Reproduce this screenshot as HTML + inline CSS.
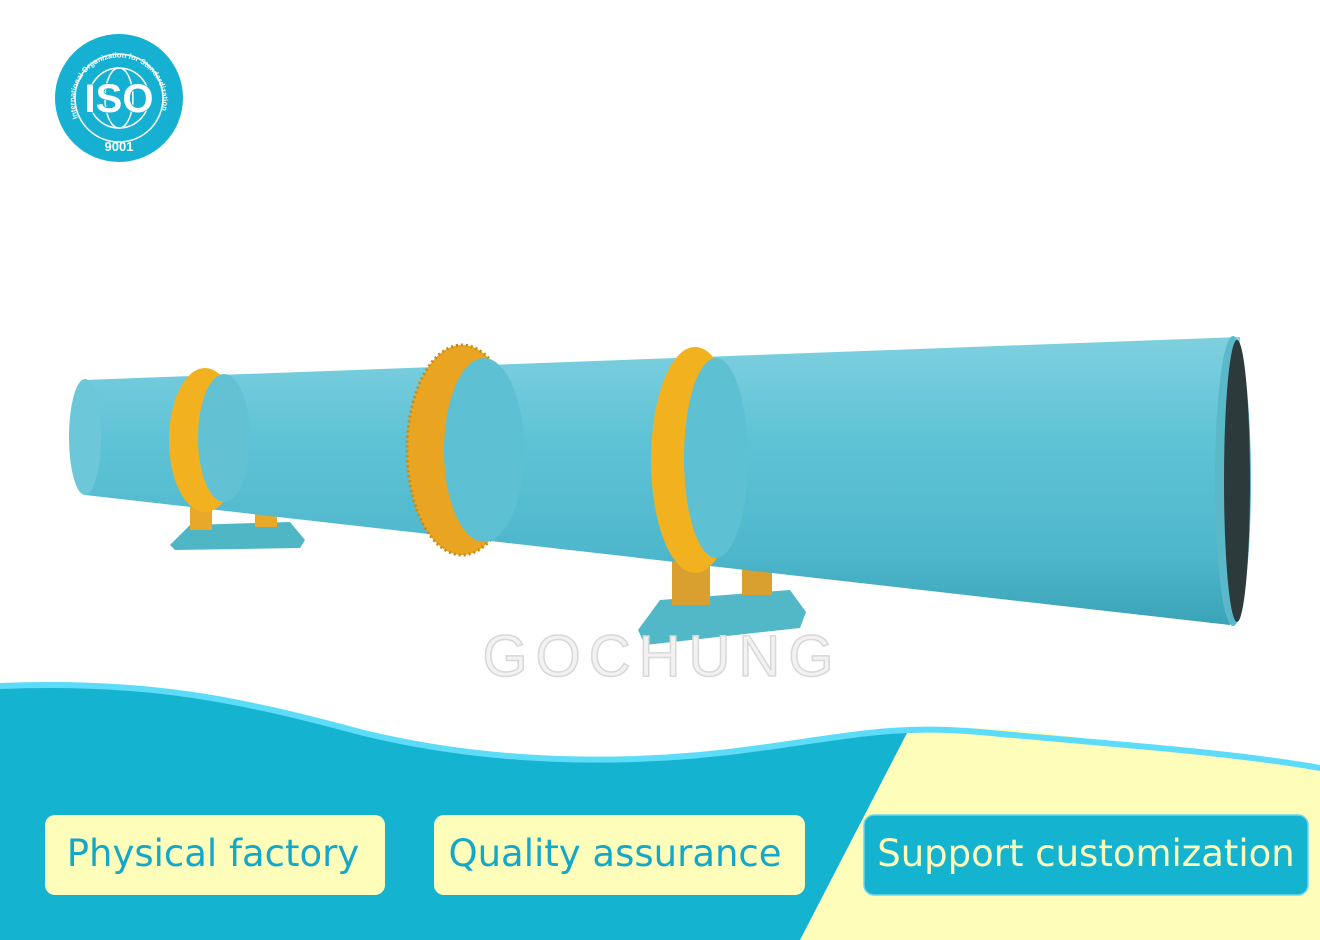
<!DOCTYPE html>
<html><head><style>
html,body{margin:0;padding:0;background:#fff;}
svg{display:block}
</style></head><body>
<svg width="1320" height="940" viewBox="0 0 1320 940" xmlns="http://www.w3.org/2000/svg">
<defs>
<linearGradient id="drum" x1="0" y1="0" x2="0" y2="1">
<stop offset="0" stop-color="#7fd0df"/>
<stop offset="0.35" stop-color="#5fc3d6"/>
<stop offset="0.75" stop-color="#4eb7cc"/>
<stop offset="1" stop-color="#3aa3b8"/>
</linearGradient>
</defs>
<rect width="1320" height="940" fill="#fff"/>
<!-- ISO badge -->
<circle cx="119" cy="98" r="64" fill="#16b0d2"/>
<circle cx="119" cy="98" r="44" fill="none" stroke="#fff" stroke-width="1.5"/>
<circle cx="119" cy="98" r="30" fill="none" stroke="#fff" stroke-width="1.5"/>
<ellipse cx="119" cy="98" rx="14" ry="30" fill="none" stroke="#fff" stroke-width="1.5"/>
<text x="119" y="112" text-anchor="middle" font-family="Liberation Sans,sans-serif" font-weight="bold" font-size="40" fill="#fff" stroke="#16b0d2" stroke-width="1.5" paint-order="stroke">ISO</text>
<text x="119" y="151" text-anchor="middle" font-family="Liberation Sans,sans-serif" font-weight="bold" font-size="13" fill="#fff">9001</text>
<path id="arc" d="M78 118 A44 44 0 1 1 162 110" fill="none"/>
<text font-family="Liberation Sans,sans-serif" font-size="7.5" font-weight="bold" fill="#fff"><textPath href="#arc">International Organization for Standardization</textPath></text>
<!-- supports -->
<polygon points="170,545 190,525 290,522 305,540 300,548 175,550" fill="#4fb6c6"/>
<rect x="190" y="505" width="22" height="25" fill="#e8a92a"/>
<rect x="255" y="505" width="22" height="22" fill="#e8a92a"/>
<polygon points="638,630 660,600 790,590 806,612 800,628 645,645" fill="#52b8c8"/>
<rect x="672" y="560" width="38" height="45" fill="#d9a030"/>
<rect x="742" y="565" width="30" height="30" fill="#d9a030"/>
<!-- drum body -->
<polygon points="85,380 1240,337 1230,625 85,495" fill="url(#drum)"/>
<ellipse cx="85" cy="437" rx="16" ry="58" fill="#6cc8d8"/>
<ellipse cx="1233" cy="481" rx="18" ry="145" fill="#5ab8c8"/>
<ellipse cx="1237" cy="481" rx="13" ry="141" fill="#2c3a3c"/>
<!-- rings as bands -->
<ellipse cx="205" cy="440" rx="36" ry="72" fill="#f2b21f"/>
<ellipse cx="224" cy="438" rx="26" ry="64" fill="#62c2d4"/>
<ellipse cx="462" cy="450" rx="55" ry="105" fill="#e9a521"/>
<ellipse cx="462" cy="450" rx="55" ry="105" fill="none" stroke="#c78a18" stroke-width="3" stroke-dasharray="2 3"/>
<ellipse cx="484" cy="450" rx="40" ry="92" fill="#5ec0d3"/>
<ellipse cx="695" cy="460" rx="44" ry="113" fill="#f2b21f"/>
<ellipse cx="716" cy="458" rx="32" ry="100" fill="#5ec0d3"/>
<!-- watermark -->
<text x="662" y="676" text-anchor="middle" font-family="Liberation Sans,sans-serif" font-size="58" letter-spacing="8" fill="#f2f2f2" stroke="#d8d8d8" stroke-width="1.5">GOCHUNG</text>
<!-- bottom wave -->
<path d="M0 686 C150 680 240 700 360 732 C480 762 620 768 760 748 C860 734 900 725 980 732 C1120 745 1230 752 1320 768 L1320 940 L0 940 Z" fill="#14b3d0"/>
<path d="M907 733 C960 726 1000 727 1060 735 C1160 748 1250 756 1320 770 L1320 940 L800 940 Z" fill="#fefdb9"/>
<path d="M0 686 C150 680 240 700 360 732 C480 762 620 768 760 748 C860 734 900 725 980 732 C1120 745 1230 752 1320 768" fill="none" stroke="#5cdcf8" stroke-width="6"/>
<!-- buttons -->
<rect x="45" y="815" width="340" height="80" rx="10" fill="#fefdb9"/>
<text x="213" y="866" text-anchor="middle" font-family="DejaVu Sans,sans-serif" font-size="37" fill="#14a8c8">Physical factory</text>
<rect x="434" y="815" width="371" height="80" rx="10" fill="#fefdb9"/>
<text x="615" y="866" text-anchor="middle" font-family="DejaVu Sans,sans-serif" font-size="37" fill="#14a8c8">Quality assurance</text>
<rect x="864" y="815" width="444" height="80" rx="10" fill="#14b3d0" stroke="#6dd6ec" stroke-width="1.5"/>
<text x="1086" y="866" text-anchor="middle" font-family="DejaVu Sans,sans-serif" font-size="37" fill="#fefdb9">Support customization</text>
</svg>
</body></html>
